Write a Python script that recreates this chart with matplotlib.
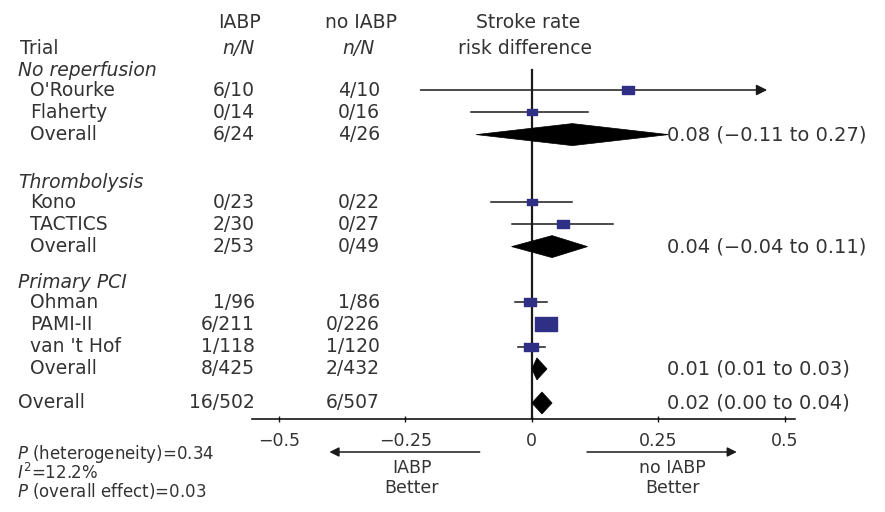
import numpy as np
import matplotlib
matplotlib.use('Agg')
import matplotlib.pyplot as plt
from matplotlib.path import Path
from matplotlib.transforms import blended_transform_factory

plt.rcParams['font.family'] = ['DejaVu Sans']

# ---- data ----
groups = ['No reperfusion', 'Thrombolysis', 'Primary PCI']
trials = [["O'Rourke", 'Flaherty'], ['Kono', 'TACTICS'], ['Ohman', 'PAMI-II', "van 't Hof"]]
iabp_nN = [['6/10', '0/14'], ['0/23', '2/30'], ['1/96', '6/211', '1/118']]
ctrl_nN = [['4/10', '0/16'], ['0/22', '0/27'], ['1/86', '0/226', '1/120']]
rd = [[0.19, 0.0], [0.0, 0.062], [-0.004, 0.028, -0.002]]
rd_lo = [[-0.22, -0.12], [-0.08, -0.04], [-0.033, 0.008, -0.027]]
rd_hi = [[0.63, 0.11], [0.08, 0.16], [0.03, 0.05, 0.025]]
weight = [[1.0, 0.9], [0.9, 1.0], [1.0, 1.85, 1.2]]

sub_iabp = ['6/24', '2/53', '8/425']
sub_ctrl = ['4/26', '0/49', '2/432']
sub_rd = [0.08, 0.04, 0.01]
sub_lo = [-0.11, -0.04, 0.0]
sub_hi = [0.27, 0.11, 0.03]
sub_txt = ['0.08 (\u22120.11 to 0.27)', '0.04 (\u22120.04 to 0.11)', '0.01 (0.01 to 0.03)']

tot_iabp, tot_ctrl = '16/502', '6/507'
tot_rd, tot_lo, tot_hi = 0.02, 0.0, 0.04
tot_txt = '0.02 (0.00 to 0.04)'

xticks = [-0.5, -0.25, 0, 0.25, 0.5]
xticklabels = ['\u22120.5', '\u22120.25', '0', '0.25', '0.5']
stats = ['$P$ (heterogeneity)=0.34', '$I^2$=12.2%', '$P$ (overall effect)=0.03']

# ---- layout (pixels from top) ----
W, H = 885, 512
group_top = [70, 182, 282]
row_step = 22.3
total_row = 403
axis_y = 419
x_clip = 0.465

txt = '#333333'
sq_col = '#2f2f86'
ln_col = '#1a1a1a'
fs = 13.5

fig = plt.figure(figsize=(W / 100, H / 100), dpi=100)
ax = fig.add_axes([252 / W, (H - axis_y) / H, (795 - 252) / W, axis_y / H])
ax.set_xlim(-0.553, 0.52)
ax.set_ylim(axis_y, 0)
for s in ['top', 'left', 'right']:
    ax.spines[s].set_visible(False)
ax.spines['bottom'].set_linewidth(1.1)
ax.set_yticks([])
ax.set_xticks(xticks)
ax.set_xticklabels(xticklabels)
ax.tick_params(axis='x', direction='inout', length=4, width=1, labelsize=12.5,
               pad=7, colors=ln_col, labelcolor=txt)
ax.patch.set_alpha(0)

tr = blended_transform_factory(fig.transFigure, ax.transData)

def col_text(px, y, s, **kw):
    kw.setdefault('fontsize', fs)
    kw.setdefault('color', txt)
    kw.setdefault('va', 'center')
    ax.text(px / W, y, s, transform=tr, clip_on=False, **kw)

# rectangle marker (wider than tall, like the source)
rect = Path([(-1, -0.62), (1, -0.62), (1, 0.62), (-1, 0.62), (-1, -0.62)],
            [Path.MOVETO, Path.LINETO, Path.LINETO, Path.LINETO, Path.CLOSEPOLY])

def diamond(y, est, lo, hi, h=11):
    ax.fill([lo, est, hi, est], [y, y - h, y, y + h], color='black', lw=0.5)

# headers
col_text(239, 23, 'IABP', ha='center')
col_text(238, 49, 'n/N', ha='center', style='italic')
col_text(361, 23, 'no IABP', ha='center')
col_text(358, 49, 'n/N', ha='center', style='italic')
col_text(528, 23, 'Stroke rate', ha='center')
col_text(525, 49, 'risk difference', ha='center')
col_text(20, 49, 'Trial')

# zero line
ax.plot([0, 0], [group_top[0], axis_y], color=ln_col, lw=1.6, zorder=1)

for g in range(len(groups)):
    y0 = group_top[g]
    col_text(18, y0, groups[g], style='italic')
    y = y0 + 20
    for i in range(len(trials[g])):
        col_text(30, y, trials[g][i])
        col_text(255, y, iabp_nN[g][i], ha='right')
        col_text(380, y, ctrl_nN[g][i], ha='right')
        lo, hi = rd_lo[g][i], rd_hi[g][i]
        if hi > x_clip:
            ax.annotate('', xy=(x_clip, y), xytext=(lo, y),
                        arrowprops=dict(arrowstyle='-|>', color=ln_col, lw=1.1,
                                        mutation_scale=16, shrinkA=0, shrinkB=0))
        else:
            ax.plot([lo, hi], [y, y], color=ln_col, lw=1.1, zorder=2)
        ax.plot([rd[g][i]], [y], marker=rect, ms=8.6 * weight[g][i],
                color=sq_col, mec=sq_col, zorder=3)
        y += row_step
    col_text(30, y, 'Overall')
    col_text(255, y, sub_iabp[g], ha='right')
    col_text(380, y, sub_ctrl[g], ha='right')
    diamond(y, sub_rd[g], sub_lo[g], sub_hi[g])
    col_text(667, y, sub_txt[g], fontsize=14)

col_text(18, total_row, 'Overall')
col_text(255, total_row, tot_iabp, ha='right')
col_text(380, total_row, tot_ctrl, ha='right')
diamond(total_row, tot_rd, tot_lo, tot_hi)
col_text(667, total_row, tot_txt, fontsize=14)

# favours arrows below the axis
xa = ax.get_xaxis_transform()
ya = (axis_y - 452) / axis_y
ax.annotate('', xy=(-0.4, ya), xytext=(-0.103, ya), xycoords=xa, textcoords=xa,
            arrowprops=dict(arrowstyle='-|>', color=ln_col, lw=1.1, mutation_scale=14,
                            shrinkA=0, shrinkB=0), annotation_clip=False)
ax.annotate('', xy=(0.405, ya), xytext=(0.109, ya), xycoords=xa, textcoords=xa,
            arrowprops=dict(arrowstyle='-|>', color=ln_col, lw=1.1, mutation_scale=14,
                            shrinkA=0, shrinkB=0), annotation_clip=False)
for xc, lab in [(-0.237, 'IABP\nBetter'), (0.277, 'no IABP\nBetter')]:
    ax.text(xc, (axis_y - 478) / axis_y, lab, transform=xa, ha='center', va='center',
            fontsize=12.5, color=txt, linespacing=1.2, clip_on=False)

# test statistics, one text block
fig.text(17 / W, (H - 472) / H, '\n'.join(stats), fontsize=12, color=txt,
         va='center', linespacing=0.85)

fig.savefig('out.png', dpi=100, facecolor='white')
